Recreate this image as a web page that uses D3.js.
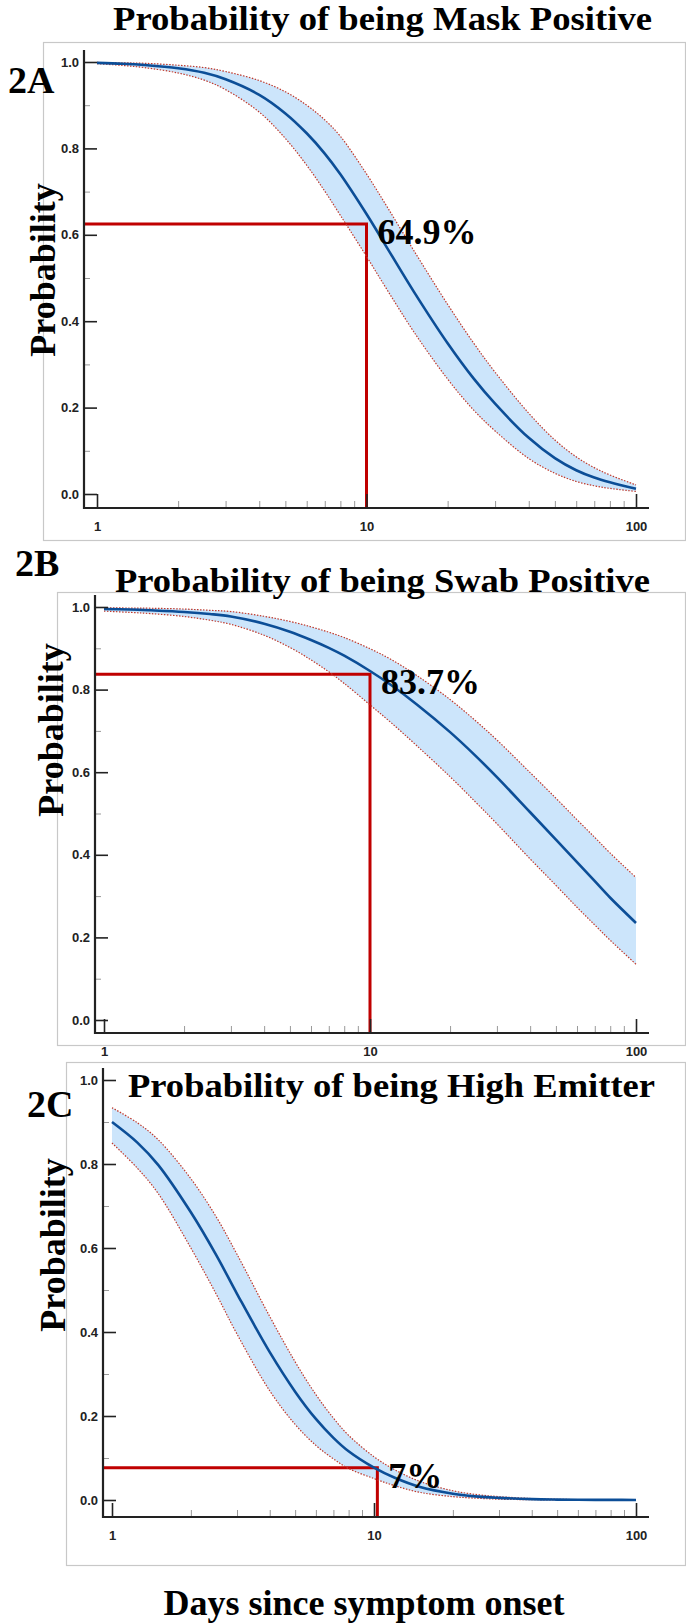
<!DOCTYPE html>
<meta charset="utf-8">
<style>
body { margin: 0; background: #fff; }
svg { display: block; font-family: "Liberation Serif", "Times New Roman", serif; }
.tick text { font-size: 13px; font-weight: bold; fill: #222; }
.major line { stroke: #222; stroke-width: 1.6; }
.minor line { stroke: #999; stroke-width: 1; }
.axis-line { stroke: #222; stroke-width: 2.2; }
.frame { fill: none; stroke: #c8c8c8; stroke-width: 1.2; }
.band { fill: #cce5fb; }
.bound { fill: none; stroke: #c0392b; stroke-width: 1.2; stroke-dasharray: 1.5 1.5; }
.mid { fill: none; stroke: #0c4e97; stroke-width: 2.6; }
.mark { fill: none; stroke: #c00000; stroke-width: 3; }
.big { font-weight: bold; fill: #000; }
</style>
<svg id="chart" width="686" height="1623"></svg>
<script src="https://cdn.jsdelivr.net/npm/d3@7"></script>
<script>

// days since symptom onset (x values)
var days = [1, 1.25, 1.5, 2, 2.5, 3, 4, 5, 6, 7, 8, 10, 12, 15, 20, 25, 30, 40, 50, 60, 70, 80, 100];

// 2A mask positive
var maskMid   = [0.998, 0.996, 0.993, 0.9855, 0.975, 0.96, 0.924, 0.881, 0.835, 0.788, 0.74, 0.648, 0.567, 0.468, 0.349, 0.267, 0.209, 0.13, 0.083, 0.055, 0.038, 0.027, 0.012];
var maskUpper = [0.999, 0.998, 0.997, 0.9925, 0.987, 0.978, 0.957, 0.931, 0.9, 0.866, 0.828, 0.741, 0.662, 0.563, 0.439, 0.349, 0.282, 0.187, 0.125, 0.086, 0.061, 0.044, 0.021];
var maskLower = [0.996, 0.992, 0.987, 0.9745, 0.958, 0.936, 0.884, 0.823, 0.761, 0.701, 0.645, 0.55, 0.47, 0.375, 0.266, 0.194, 0.146, 0.082, 0.048, 0.029, 0.019, 0.013, 0.006];

// 2B swab positive
var swabMid   = [0.995, 0.994, 0.992, 0.988, 0.983, 0.977, 0.9595, 0.94, 0.92, 0.901, 0.882, 0.845, 0.811, 0.764, 0.697, 0.639, 0.588, 0.503, 0.437, 0.382, 0.336, 0.296, 0.235];
var swabUpper = [0.998, 0.9975, 0.997, 0.995, 0.992, 0.989, 0.9775, 0.965, 0.952, 0.939, 0.926, 0.899, 0.873, 0.834, 0.776, 0.724, 0.678, 0.599, 0.537, 0.485, 0.442, 0.404, 0.345];
var swabLower = [0.99, 0.987, 0.984, 0.977, 0.968, 0.958, 0.9315, 0.902, 0.872, 0.843, 0.815, 0.763, 0.72, 0.664, 0.589, 0.527, 0.475, 0.39, 0.326, 0.273, 0.23, 0.193, 0.135];

// 2C high emitter
var emitMid   = [0.90, 0.851, 0.798, 0.685, 0.583, 0.491, 0.352, 0.258, 0.193, 0.148, 0.116, 0.077, 0.053, 0.031, 0.015, 0.008, 0.005, 0.002, 0.001, 0.0006, 0.0004, 0.0003, 0.0001];
var emitUpper = [0.934, 0.898, 0.858, 0.765, 0.674, 0.585, 0.437, 0.329, 0.251, 0.195, 0.154, 0.103, 0.072, 0.044, 0.022, 0.0125, 0.008, 0.0035, 0.0018, 0.001, 0.0007, 0.0005, 0.0002];
var emitLower = [0.85, 0.79, 0.73, 0.60, 0.49, 0.395, 0.26, 0.18, 0.13, 0.098, 0.075, 0.051, 0.034, 0.018, 0.008, 0.004, 0.002, 0.0007, 0.0003, 0.0002, 0.0001, 0.0001, 0];

var titles = ["Probability of being Mask Positive", "Probability of being Swab Positive", "Probability of being High Emitter"];
var panelLabels = ["2A", "2B", "2C"];
var markDays = [10, 10, 10.3];
var markProbs = [0.625, 0.837, 0.077];
var markTexts = ["64.9%", "83.7%", "7%"];

var xTicks = [1, 10, 100];
var xMinor = [2, 3, 4, 5, 6, 7, 8, 9, 20, 30, 40, 50, 60, 70, 80, 90];
var yTicks = [0, 0.2, 0.4, 0.6, 0.8, 1.0];
var yMinor = [0.1, 0.3, 0.5, 0.7, 0.9];

var series = [
  { mid: maskMid, upper: maskUpper, lower: maskLower },
  { mid: swabMid, upper: swabUpper, lower: swabLower },
  { mid: emitMid, upper: emitUpper, lower: emitLower }
];

// page layout for each panel
var layout = [
  { frame: [43, 42, 686, 540], axisX: 84, xr: [97, 636], yr: [494, 62], axisY: 508,
    titleX: 113, titleY: 30, titleLen: 539, labX: 8, labY: 93, probX: 42, probY: 270 },
  { frame: [57, 592, 686, 1045], axisX: 95, xr: [104, 636], yr: [1020, 607], axisY: 1033,
    titleX: 115, titleY: 592, titleLen: 535, labX: 15, labY: 576, probX: 50, probY: 730 },
  { frame: [66, 1062, 686, 1565], axisX: 103, xr: [112, 636], yr: [1500, 1080], axisY: 1517,
    titleX: 128, titleY: 1097, titleLen: 527, labX: 27, labY: 1117, probX: 52, probY: 1245 }
];

var svg = d3.select("#chart");
var smooth = d3.curveCatmullRom.alpha(0.5);

layout.forEach(function(L, i) {
  var s = series[i];
  var pts = days.map(function(d, j) { return { d: d, m: s.mid[j], u: s.upper[j], l: s.lower[j] }; });

  var x = d3.scaleLog().domain([1, 100]).range(L.xr);
  var y = d3.scaleLinear().domain([0, 1]).range(L.yr);

  var g = svg.append("g");

  g.append("rect").attr("class", "frame")
    .attr("x", L.frame[0] + 0.5).attr("y", L.frame[1] + 0.5)
    .attr("width", L.frame[2] - L.frame[0] - 1).attr("height", L.frame[3] - L.frame[1]);

  // confidence band
  g.append("path").attr("class", "band").datum(pts)
    .attr("d", d3.area().curve(smooth)
      .x(function(p) { return x(p.d); })
      .y0(function(p) { return y(p.l); })
      .y1(function(p) { return y(p.u); }));

  // red guide lines
  var mx = x(markDays[i]), my = y(markProbs[i]);
  g.append("path").attr("class", "mark")
    .attr("d", "M" + L.axisX + "," + my + "H" + mx + "V" + L.axisY);

  ["upper", "lower"].forEach(function(k) {
    g.append("path").attr("class", "bound").datum(pts)
      .attr("d", d3.line().curve(smooth)
        .x(function(p) { return x(p.d); })
        .y(function(p) { return k === "upper" ? y(p.u) : y(p.l); }));
  });

  g.append("path").attr("class", "mid").datum(pts)
    .attr("d", d3.line().curve(smooth)
      .x(function(p) { return x(p.d); })
      .y(function(p) { return y(p.m); }));

  // axes
  g.append("g").attr("class", "minor").attr("transform", "translate(" + L.axisX + ",0)")
    .call(d3.axisLeft(y).tickValues(yMinor).tickSize(-6).tickFormat(""))
    .select(".domain").remove();
  g.append("g").attr("class", "major").attr("transform", "translate(" + L.axisX + ",0)")
    .call(d3.axisLeft(y).tickValues(yTicks).tickSize(-13).tickPadding(5).tickFormat(d3.format(".1f")))
    .select(".domain").remove();
  g.append("g").attr("class", "minor").attr("transform", "translate(0," + L.axisY + ")")
    .call(d3.axisBottom(x).tickValues(xMinor).tickSize(-7).tickFormat(""))
    .select(".domain").remove();
  g.append("g").attr("class", "major").attr("transform", "translate(0," + L.axisY + ")")
    .call(d3.axisBottom(x).tickValues(xTicks).tickSize(-14).tickPadding(14).tickFormat(d3.format("d")))
    .select(".domain").remove();

  g.append("line").attr("class", "axis-line")
    .attr("x1", L.axisX).attr("x2", L.axisX).attr("y1", y(1) - 12).attr("y2", L.axisY + 1);
  g.append("line").attr("class", "axis-line")
    .attr("x1", L.axisX - 1).attr("x2", x(100) + 13).attr("y1", L.axisY).attr("y2", L.axisY);

  // texts
  g.append("text").attr("class", "big")
    .attr("x", L.titleX).attr("y", L.titleY)
    .attr("textLength", L.titleLen).attr("lengthAdjust", "spacingAndGlyphs")
    .style("font-size", "34px").text(titles[i]);

  g.append("text").attr("class", "big")
    .attr("x", L.labX).attr("y", L.labY)
    .style("font-size", "38px").text(panelLabels[i]);

  g.append("text").attr("class", "big")
    .attr("transform", "translate(" + L.probX + "," + L.probY + ") rotate(-90)")
    .attr("text-anchor", "middle").attr("dy", "0.35em")
    .style("font-size", "36px").text("Probability");

  g.append("text").attr("class", "big")
    .attr("x", mx + 11).attr("y", my + 20)
    .style("font-size", "36px").text(markTexts[i]);
});

svg.append("text").attr("class", "big")
  .attr("x", 364).attr("y", 1615).attr("text-anchor", "middle")
  .style("font-size", "36px").text("Days since symptom onset");

</script>
